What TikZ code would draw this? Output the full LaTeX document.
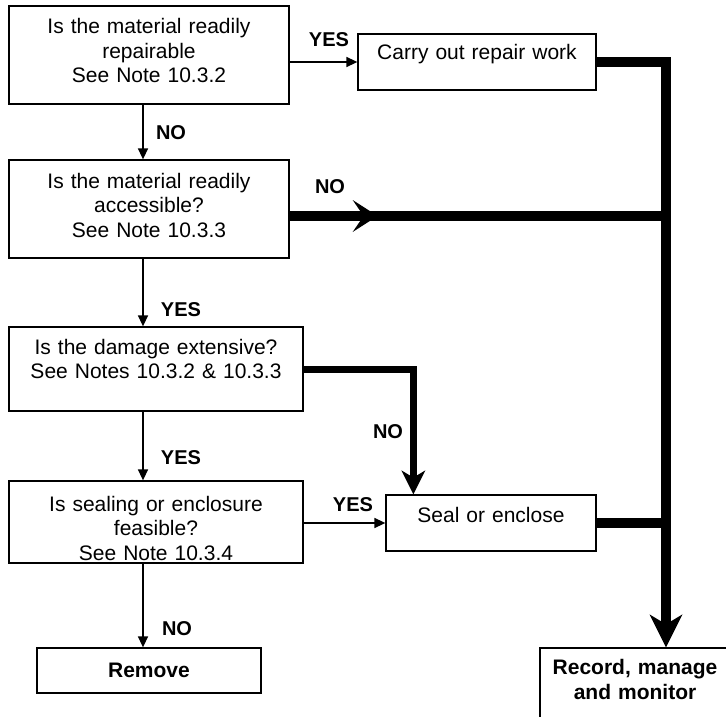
\documentclass[tikz,border=0pt]{standalone}
\usepackage{fontspec}
\setmainfont{Liberation Sans}
\usetikzlibrary{arrows.meta,decorations.markings}

\begin{document}
\begin{tikzpicture}[x=1pt, y=-1pt]
  \tikzset{
    box/.style={draw=black, line width=1.3pt, inner xsep=0pt, inner ysep=0pt, align=center, anchor=base, font=\fontsize{21}{24.5}\selectfont},
    bbox/.style={box, font=\fontsize{21}{25}\selectfont\bfseries},
    lbl/.style={font=\fontsize{20}{24}\selectfont\bfseries, inner sep=0pt},
    thin/.style={line width=1.5pt, -{Triangle[length=11pt, width=10pt]}},
    fat/.style={line width=10pt},
    bigtip/.style={-{Stealth[length=#1, width=#1, inset=0.3*#1, line width=0pt]}}
  }
  \useasboundingbox (0,0) rectangle (726,717);

  % Questions down the left side
  \node[box, text width=280pt, text height=28pt, text depth=70pt] (q1) at (149,34) {Is the material readily\\repairable\\See Note 10.3.2};
  \node[box, text width=280pt, text height=28pt, text depth=70pt] (q2) at (149,188) {Is the material readily\\accessible?\\See Note 10.3.3};
  \node[box, text width=294pt, text height=27pt, text depth=57pt] (q3) at (156,354) {Is the damage extensive?\\See Notes 10.3.2 \& 10.3.3};
  \node[box, text width=294pt, text height=30pt, text depth=52pt] (q4) at (156,511) {Is sealing or enclosure\\feasible?\\See Note 10.3.4};
  \node[bbox, text width=224pt, text height=29pt, text depth=16pt] (remove) at (149,677) {Remove};

  % Actions on the right
  \node[box, text width=238pt, text height=26pt, text depth=30pt] (carry) at (477,60) {Carry out repair work};
  \node[box, text width=210pt, text height=27pt, text depth=29pt] (seal) at (491,522) {Seal or enclose};
  \node[bbox, text width=190pt, text height=26pt, text depth=60pt] (record) at (635,674) {Record, manage\\and monitor};
  \coordinate (trunk) at ([xshift=31pt]record.north);

  % Thin connectors
  \draw[thin] (q1.east |- carry.west) -- (carry.west);
  \draw[thin] ([xshift=-6pt]q1.south) -- ([xshift=-6pt]q2.north);
  \draw[thin] ([xshift=-6pt]q2.south) -- ([xshift=-13pt]q3.north);
  \draw[thin] ([xshift=-13pt]q3.south) -- ([xshift=-13pt]q4.north);
  \draw[thin] ([xshift=-13pt]q4.south) -- ([xshift=-6pt]remove.north);
  \draw[thin] (q4.east |- seal.west) -- (seal.west);

  % Heavy connectors
  \draw[fat, bigtip=33pt] (carry.east) -| (trunk);
  \draw[fat, postaction={decorate}, decoration={markings, mark=at position 88pt with {\arrow{Stealth[length=25pt, width=32pt, inset=11pt, line width=0pt]}}}]
    ([yshift=-7pt]q2.east) -- ([yshift=-7pt]q2.east -| trunk);
  \draw[line width=7pt, bigtip=24pt] (q3.east) -| ([xshift=28pt]seal.north west);
  \draw[fat] (seal.east) -- (seal.east -| trunk);

  % Branch labels
  \node[lbl] (yes1) at (329,40) {YES};
  \node[lbl] (no1) at (171,133) {NO};
  \node[lbl] (no2) at (330,187) {NO};
  \node[lbl] (yes2) at (181,310) {YES};
  \node[lbl] (no3) at (388,432) {NO};
  \node[lbl] (yes3) at (181,458) {YES};
  \node[lbl] (yes4) at (353,505) {YES};
  \node[lbl] (no4) at (177,629) {NO};
\end{tikzpicture}
\end{document}
